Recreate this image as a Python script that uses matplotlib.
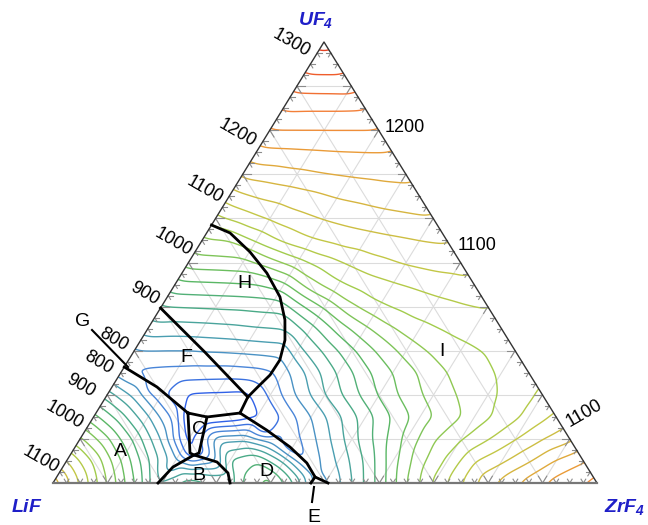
import numpy as np
import matplotlib
matplotlib.use("Agg")
import matplotlib.pyplot as plt
import matplotlib.tri as mtri
from matplotlib.colors import LinearSegmentedColormap, Normalize
from matplotlib.patches import Polygon

plt.rcParams["mathtext.fontset"] = "custom"
plt.rcParams["mathtext.rm"] = "Liberation Sans:italic:bold"
plt.rcParams["mathtext.it"] = "Liberation Sans:italic:bold"

# ---------------- data (compositions as mole fractions) ----------------
# liquidus temperature read on a 5 % grid: row k has UF4 = 0.05*k,
# entries run over ZrF4 = 0, 0.05, ... up to 1 - UF4
grid_T = [
    [1150, 1075, 1000, 925, 865, 900, 880, 905, 940, 870, 795, 850, 910, 975, 1030, 1075, 1120, 1150, 1176, 1195, 1210],
    [1078, 1021, 951, 879, 808, 790, 880, 900, 845, 785, 830, 880, 940, 992, 1030, 1073, 1095, 1122, 1152, 1172],
    [1006, 955, 894, 822, 710, 815, 820, 785, 770, 815, 865, 912, 958, 997, 1022, 1048, 1073, 1098, 1118],
    [934, 886, 828, 764, 695, 700, 722, 755, 800, 845, 888, 928, 962, 988, 1010, 1033, 1057, 1080],
    [863, 817, 755, 722, 720, 718, 755, 805, 850, 890, 928, 960, 985, 1003, 1019, 1036, 1055],
    [785, 768, 765, 763, 762, 766, 790, 835, 878, 918, 950, 978, 1000, 1016, 1028, 1043],
    [800, 800, 800, 803, 806, 810, 840, 880, 920, 955, 985, 1005, 1018, 1027, 1040],
    [840, 838, 840, 843, 848, 852, 890, 935, 970, 998, 1017, 1028, 1036, 1043],
    [875, 877, 879, 881, 885, 915, 955, 995, 1020, 1033, 1041, 1047, 1052],
    [918, 920, 922, 925, 945, 990, 1020, 1037, 1047, 1055, 1062, 1070],
    [963, 965, 968, 990, 1015, 1038, 1055, 1068, 1078, 1085, 1088],
    [997, 1000, 1030, 1055, 1072, 1082, 1089, 1095, 1100, 1103],
    [1045, 1062, 1078, 1092, 1102, 1110, 1116, 1120, 1124],
    [1088, 1102, 1110, 1118, 1127, 1132, 1137, 1141],
    [1131, 1137, 1143, 1149, 1153, 1156, 1158],
    [1168, 1170, 1172, 1174, 1175, 1175],
    [1200, 1200, 1200, 1200, 1200],
    [1230, 1229, 1229, 1228],
    [1260, 1261, 1262],
    [1288, 1288],
    [1310],
]

# extra liquidus readings along the phase-field boundaries
bnd_uf4 = [0.263, 0.2177, 0.1587, 0.1497, 0.068, 0.068, 0.0635, 0.1587,
           0.3968, 0.297, 0.195,
           0.567, 0.524, 0.476, 0.422, 0.37, 0.324, 0.279, 0.245, 0.218,
           0.120, 0.0816, 0.0454, 0.0136, 0.0, 0.0,
           0.0, 0.0363, 0.0476, 0.0227, 0.0, 0.585]
bnd_zrf4 = [0.0, 0.0827, 0.169, 0.2085, 0.218, 0.2345, 0.2276, 0.2647,
            0.0, 0.131, 0.261,
            0.043, 0.101, 0.156, 0.207, 0.242, 0.265, 0.278, 0.277, 0.268,
            0.333, 0.395, 0.444, 0.475, 0.474, 0.5055,
            0.193, 0.2025, 0.2778, 0.3104, 0.3254, 0.0]
bnd_T = [775, 740, 700, 690, 725, 725, 730, 690,
         875, 800, 720,
         1020, 992, 958, 907, 864, 830, 795, 768, 745,
         720, 750, 775, 790, 790, 795,
         850, 800, 800, 845, 865, 1025]

# phase-field boundary lines (UF4, ZrF4)
line_G = ([0.263, 0.2177, 0.1587], [0.0, 0.0827, 0.169])
line_C = ([0.1587, 0.1497, 0.068, 0.0635, 0.068, 0.1587], [0.169, 0.2085, 0.2345, 0.2276, 0.218, 0.169])
line_FD = ([0.1497, 0.1587], [0.2085, 0.2647])
line_FH = ([0.3968, 0.297, 0.195], [0.0, 0.131, 0.261])
line_J = ([0.195, 0.1587], [0.261, 0.2647])
line_H = ([0.585, 0.567, 0.524, 0.476, 0.422, 0.37, 0.324, 0.279, 0.245, 0.218, 0.195],
          [0.0, 0.043, 0.101, 0.156, 0.207, 0.242, 0.265, 0.278, 0.277, 0.268, 0.261])
line_ID = ([0.1587, 0.120, 0.0816, 0.0454, 0.0136, 0.0], [0.2647, 0.333, 0.395, 0.444, 0.475, 0.474])
line_E2 = ([0.0136, 0.0], [0.475, 0.5055])
line_B = ([0.0, 0.0363, 0.0635, 0.0476, 0.0227, 0.0], [0.193, 0.2025, 0.2276, 0.2778, 0.3104, 0.3254])

levels = np.arange(650, 1326, 25)

# --------------- geometry ---------------
P_L = np.array([53.0, 483.0])
P_U = np.array([324.0, 42.0])
P_Z = np.array([597.0, 483.0])


def to_xy(u, z):
    u = np.asarray(u, float)
    z = np.asarray(z, float)
    w = 1 - u - z
    x = w * P_L[0] + u * P_U[0] + z * P_Z[0]
    y = w * P_L[1] + u * P_U[1] + z * P_Z[1]
    return x, y


fig = plt.figure(figsize=(6.48, 5.25), dpi=100)
ax = fig.add_axes([0, 0, 1, 1])
ax.set_xlim(0, 648)
ax.set_ylim(525, 0)
ax.axis("off")

# grid lines every 10 %
gcol = "#dcdcdc"
for i in range(1, 10):
    f = i / 10
    x, y = to_xy([f, f], [0, 1 - f]); ax.plot(x, y, color=gcol, lw=0.8, zorder=1)
    x, y = to_xy([0, 1 - f], [f, f]); ax.plot(x, y, color=gcol, lw=0.8, zorder=1)
    x, y = to_xy([0, 1 - f], [1 - f, 0]); ax.plot(x, y, color=gcol, lw=0.8, zorder=1)

# field: linear interpolation on a pixel grid, lightly smoothed
us, zs, ts = [], [], []
for k, row in enumerate(grid_T):
    for j, t in enumerate(row):
        us.append(0.05 * k)
        zs.append(0.05 * j)
        ts.append(t)
us += bnd_uf4
zs += bnd_zrf4
ts += bnd_T
X, Y = to_xy(us, zs)
T = np.array(ts, float)
tri = mtri.Triangulation(X, Y)
lin = mtri.LinearTriInterpolator(tri, T)
gx = np.arange(30, 620, 1.0)
gy = np.arange(20, 500, 1.0)
GX, GY = np.meshgrid(gx, gy)
F = lin(GX, GY)
M = (~np.ma.getmaskarray(F)).astype(float)
V = np.where(M > 0, np.ma.getdata(F), 0.0)


def blur(a, s):
    r = int(3 * s)
    k = np.exp(-0.5 * (np.arange(-r, r + 1) / s) ** 2)
    k /= k.sum()
    a = np.apply_along_axis(lambda v: np.convolve(v, k, mode="same"), 0, a)
    a = np.apply_along_axis(lambda v: np.convolve(v, k, mode="same"), 1, a)
    return a


num = blur(V, 4.5)
den = blur(M, 4.5)
Fs = np.ma.masked_where(den < 0.02, num / np.maximum(den, 1e-9))

cmap = LinearSegmentedColormap.from_list("liq", [
    (0.00, "#1a2cff"), (0.11, "#2f5fe8"), (0.19, "#4a86d8"), (0.265, "#4a9fb0"),
    (0.34, "#4aaa88"), (0.42, "#5bb863"), (0.49, "#7cc45a"), (0.57, "#a3cc4c"),
    (0.64, "#c2c846"), (0.72, "#d6b640"), (0.80, "#eb9a38"), (0.87, "#f3823a"),
    (0.95, "#ef5d2c"), (1.00, "#e03a20")])
cs = ax.contour(GX, GY, Fs, levels=levels, cmap=cmap, norm=Normalize(650, 1310),
                linewidths=1.0, zorder=2)
clip = Polygon([P_L, P_U, P_Z], closed=True, transform=ax.transData)
cs.set_clip_path(clip)

# ticks
tcol = "#8c8c8c"
dirs = {
    "bottom": (P_L, P_Z, [(P_U - P_L), (P_U - P_Z)]),
    "left": (P_L, P_U, [(P_Z - P_L), (P_Z - P_U)]),
    "right": (P_Z, P_U, [(P_L - P_Z), (P_L - P_U)]),
}
for name, (A, B, ds) in dirs.items():
    for i in range(1, 40):
        p = A + (B - A) * i / 40
        ln = 8.0 if i % 4 == 0 else 4.5
        for d in ds:
            d = d / np.linalg.norm(d)
            ax.plot([p[0], p[0] + d[0] * ln], [p[1], p[1] + d[1] * ln],
                    color=tcol, lw=0.8, zorder=3)

# triangle outline
ax.plot([P_L[0], P_U[0], P_Z[0]], [P_L[1], P_U[1], P_Z[1]], color="#333333", lw=1.0, zorder=4)
ax.plot([P_L[0], P_Z[0]], [P_L[1], P_Z[1]], color="#777777", lw=1.6, zorder=4)

# phase boundaries
for u, z in [line_G, line_C, line_FD, line_FH, line_J, line_H, line_ID, line_E2, line_B]:
    x, y = to_xy(u, z)
    ax.plot(x, y, color="black", lw=2.0, zorder=5, solid_joinstyle="round")
# leaders
ax.plot([92, 128], [330, 367], color="black", lw=1.5, zorder=5)
ax.plot([314, 312], [487, 502], color="black", lw=1.5, zorder=5)

# texts
font = "Liberation Sans"
blue = "#1f1fc8"
ax.text(316, 20, r"$\mathit{UF}_{4}$", color=blue, fontsize=14, ha="center", va="center")
ax.text(27, 507, r"$\mathit{LiF}$", color=blue, fontsize=14, ha="center", va="center")
ax.text(625, 507, r"$\mathit{ZrF}_{4}$", color=blue, fontsize=14, ha="center", va="center")

left_labels = [("1300", 291, 43), ("1200", 237, 133), ("1100", 205, 190), ("1000", 173, 242),
               ("900", 145, 294), ("800", 114, 340), ("800", 99, 363), ("900", 81, 386),
               ("1000", 64, 415), ("1100", 41, 460)]
for s, x, y in left_labels:
    ax.text(x, y, s, fontsize=13, rotation=-30, ha="center", va="center", family=font)
ax.text(405, 128, "1200", fontsize=13, ha="center", va="center", family=font)
ax.text(477, 245, "1100", fontsize=13, ha="center", va="center", family=font)
ax.text(584, 413, "1100", fontsize=13, rotation=30, ha="center", va="center", family=font)

for s, x, y in [("A", 120, 451), ("B", 199, 475), ("C", 199, 430), ("D", 266, 471),
                ("E", 314, 517), ("F", 186, 357), ("G", 83, 322), ("H", 244, 284),
                ("I", 442, 352)]:
    ax.text(x, y, s, fontsize=14, ha="center", va="center", family=font)

fig.savefig("out.png", dpi=100)
